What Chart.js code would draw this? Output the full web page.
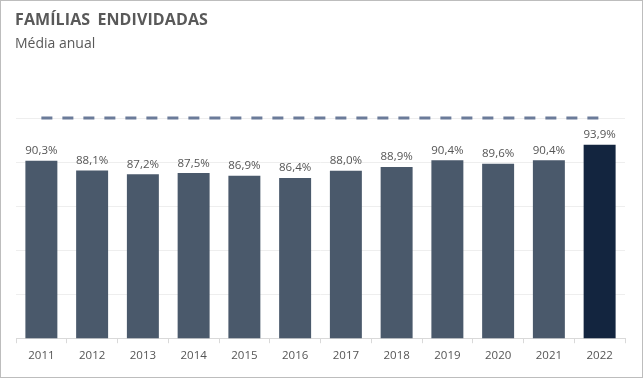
<!DOCTYPE html>
<html>
<head>
<meta charset="utf-8">
<script src="https://cdn.jsdelivr.net/npm/chart.js@4/dist/chart.umd.min.js"></script>
<style>
  html, body { margin: 0; padding: 0; background: #fff; }
  #wrap { position: relative; width: 643px; height: 378px; overflow: hidden; }
  #frame { position: absolute; left: 0; top: 0; width: 641px; height: 376px; border: 1px solid #bdbdbd; pointer-events: none; }
  #title { position: absolute; left: 15px; top: 8px; font: bold 16px "Open Sans", sans-serif; color: #595959; letter-spacing: 0.1px; word-spacing: 3px; }
  #subtitle { position: absolute; left: 15px; top: 33px; font: 14px "Open Sans", sans-serif; color: #595959; }
  canvas { position: absolute; left: 0; top: 0; }
</style>
</head>
<body>
<div id="wrap">
  <canvas id="myChart" width="643" height="378"></canvas>
  <div id="title">FAMÍLIAS ENDIVIDADAS</div>
  <div id="subtitle">Média anual</div>
  <div id="frame"></div>
</div>
<script>
// values
const years = ['2011', '2012', '2013', '2014', '2015', '2016', '2017', '2018', '2019', '2020', '2021', '2022']
const indebted = [90.3, 88.1, 87.2, 87.5, 86.9, 86.4, 88.0, 88.9, 90.4, 89.6, 90.4, 93.9]
const reference = [100, 100, 100, 100, 100, 100, 100, 100, 100, 100, 100, 100]

const barColors = indebted.map((v, i) => i === indebted.length - 1 ? '#13253f' : '#4a596b')

// value labels on top of the bars
const barLabels = {
  id: 'barLabels',
  afterDatasetsDraw(chart) {
    const ctx = chart.ctx
    const meta = chart.getDatasetMeta(1)
    ctx.save()
    ctx.font = '11.5px "Open Sans", sans-serif'
    ctx.fillStyle = '#555555'
    ctx.textAlign = 'center'
    ctx.textBaseline = 'bottom'
    meta.data.forEach((bar, i) => {
      ctx.fillText(indebted[i].toFixed(1).replace('.', ',') + '%', bar.x, bar.y - 4)
    })
    ctx.restore()
  }
}

let myChart = new Chart('myChart', {
  type: 'bar',
  data: {
    labels: years,
    datasets: [
      {
        type: 'line',
        label: 'ref',
        data: reference,
        borderColor: '#6b7b99',
        borderWidth: 3,
        borderDash: [11, 10],
        pointRadius: 0,
        fill: false,
        clip: false,
        order: 0
      },
      {
        label: 'Famílias endividadas',
        data: indebted,
        backgroundColor: barColors,
        categoryPercentage: 0.63,
        barPercentage: 1,
        order: 1
      }
    ]
  },
  plugins: [barLabels],
  options: {
    responsive: false,
    animation: false,
    layout: { padding: { left: 16, right: 18, top: 118, bottom: 9 } },
    plugins: {
      legend: { display: false },
      tooltip: { enabled: false }
    },
    scales: {
      x: {
        offset: true,
        grid: { offset: true, drawOnChartArea: false, drawTicks: true, tickLength: 5, color: '#d9d9d9' },
        border: { color: '#d9d9d9' },
        ticks: { color: '#555555', font: { family: 'Open Sans', size: 11.5 }, padding: 6 }
      },
      y: {
        min: 50,
        max: 100,
        afterFit(scale) { scale.width = 0 },
        ticks: { display: false, stepSize: 10 },
        border: { display: false },
        grid: { color: '#eeeeee', drawTicks: false }
      }
    }
  }
})
</script>
</body>
</html>
